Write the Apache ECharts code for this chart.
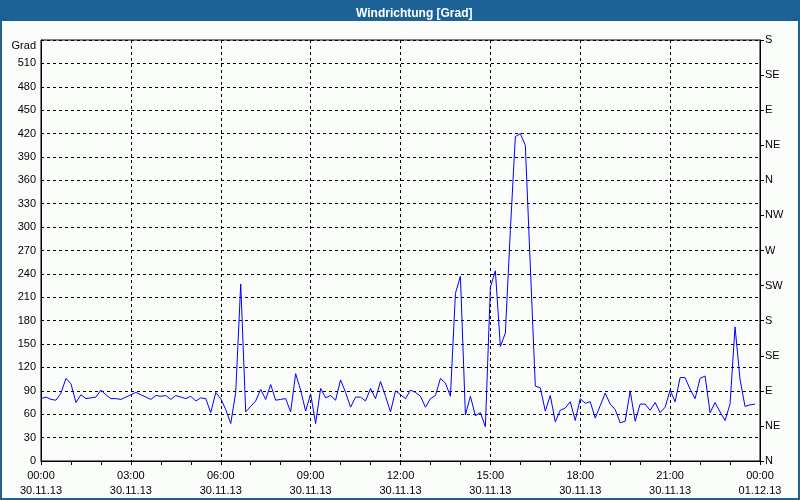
<!DOCTYPE html>
<html>
<head>
<meta charset="utf-8">
<script src="https://cdn.jsdelivr.net/npm/echarts@6/dist/echarts.min.js"></script>
<style>
html,body{margin:0;padding:0;background:#fbfdfb;}
#chart{width:800px;height:500px;}
</style>
</head>
<body>
<div id="chart"></div>
<script>
// Wind direction readings every 10 minutes, 30.11.13 00:00 .. 23:50 (degrees)
const stepMinutes = 10;
const windDir = [
  80, 82, 79, 78, 87, 106, 99, 75, 85, 80,
  81, 82, 91, 85, 80, 80, 79, 82, 85, 88,
  85, 82, 79, 84, 83, 84, 79, 84, 82, 80,
  83, 77, 81, 80, 62, 88, 80, 66, 48, 88,
  227, 63, 70, 77, 92, 79, 98, 78, 79, 80,
  63, 112, 91, 64, 86, 48, 93, 81, 84, 78,
  104, 88, 69, 82, 82, 77, 93, 80, 102, 83,
  63, 90, 85, 80, 91, 88, 83, 69, 80, 84,
  106, 100, 83, 215, 237, 59, 83, 58, 62, 44,
  223, 244, 147, 164, 296, 416, 420, 405, 250, 96,
  94, 64, 84, 50, 65, 68, 76, 52, 80, 74,
  76, 55, 71, 87, 73, 66, 49, 51, 90, 51,
  73, 73, 65, 75, 62, 69, 91, 76, 107, 107,
  92, 80, 106, 109, 62, 75, 63, 52, 73, 172,
  105, 70, 72, 73
];
const tickTimes = ['00:00','03:00','06:00','09:00','12:00','15:00','18:00','21:00','00:00'];
const tickDates = ['30.11.13','30.11.13','30.11.13','30.11.13','30.11.13','30.11.13','30.11.13','30.11.13','01.12.13'];
const compassLabels = ['N','NE','E','SE','S','SW','W','NW','N','NE','E','SE','S'];
const titleText = 'Windrichtung [Grad]';
const unitName = 'Grad';

const blue = '#1c6296';
const font = 'Liberation Sans, Arial, sans-serif';

const chart = echarts.init(document.getElementById('chart'), null, {renderer:'canvas'});
chart.setOption({
  animation: false,
  backgroundColor: '#fbfdfb',
  title: {
    text: titleText,
    left: 351, top: 3,
    textStyle: {color:'#ffffff', fontSize: 12, fontWeight:'bold', fontFamily: font}
  },
  graphic: [
    {type:'rect', z:0, shape:{x:0,y:0,width:800,height:21}, style:{fill:blue}},
    {type:'rect', z:0, shape:{x:1,y:1,width:798,height:498}, style:{fill:'none', stroke:blue, lineWidth:2}}
  ],
  grid: {left:41, right:40, top:40, bottom:39, show:true, borderColor:'#000', borderWidth:1, backgroundColor:'transparent'},
  xAxis: {
    type:'value', min:0, max:1440, interval:180,
    axisLine:{show:true, lineStyle:{color:'#000', width:1}},
    axisTick:{show:true, length:4, lineStyle:{color:'#000'}},
    minorTick:{show:true, splitNumber:3, length:4, lineStyle:{color:'#000'}},
    splitLine:{show:true, lineStyle:{color:'#000', type:[3,3], width:1}},
    axisLabel:{
      margin:7, color:'#000', fontSize:11, fontFamily:font, lineHeight:15,
      formatter: function(v){ const i = Math.round(v/180); return tickTimes[i] + '\n' + tickDates[i]; }
    }
  },
  yAxis: [
    {
      type:'value', min:0, max:540, interval:30, position:'left',
      name: unitName, nameLocation:'end', nameGap:-6,
      nameTextStyle:{color:'#000', fontSize:11, fontFamily:font, align:'right', verticalAlign:'middle', padding:[0,5,0,0]},
      axisLine:{show:true, lineStyle:{color:'#000'}},
      axisTick:{show:false},
      splitLine:{show:true, lineStyle:{color:'#000', type:[3,3], width:1}},
      axisLabel:{margin:5, color:'#000', fontSize:11, fontFamily:font, showMaxLabel:false,
        formatter: function(v){ return v >= 540 ? '' : String(v); }}
    },
    {
      type:'value', min:0, max:540, interval:45, position:'right',
      axisLine:{show:true, lineStyle:{color:'#000'}},
      axisTick:{show:true, length:4, lineStyle:{color:'#000'}},
      splitLine:{show:false},
      axisLabel:{margin:5, color:'#000', fontSize:11, fontFamily:font,
        formatter: function(v){ return compassLabels[Math.round(v/45)]; }}
    }
  ],
  series: [{
    type:'line',
    yAxisIndex:0,
    data: windDir.map((v,i)=>[i*stepMinutes, v]),
    showSymbol:false,
    symbol:'none',
    lineStyle:{color:'#0000ff', width:1},
    itemStyle:{color:'#0000ff'},
    z:3
  }]
});
</script>
</body>
</html>
